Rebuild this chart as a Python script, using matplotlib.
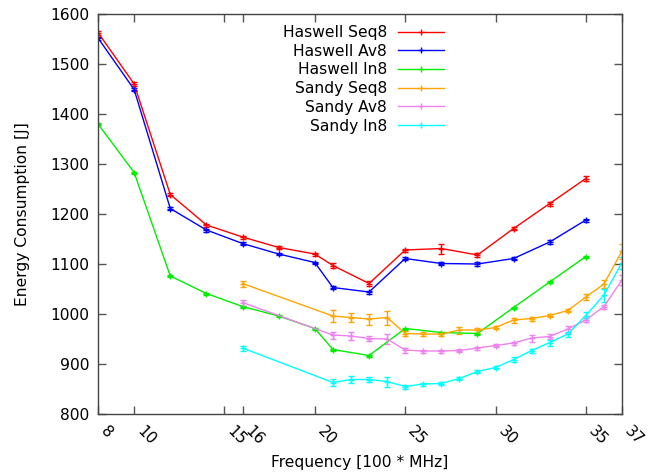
import matplotlib
matplotlib.use("Agg")
import matplotlib.pyplot as plt
from matplotlib.lines import Line2D

# Frequencies [100 MHz]
haswell_freq = [8, 10, 12, 14, 16, 18, 20, 21, 23, 25, 27, 29, 31, 33, 35]
sandy_freq = [16, 21, 22, 23, 24, 25, 26, 27, 28, 29, 30, 31, 32, 33, 34, 35, 36, 37]

haswell_seq8 = [1563, 1460, 1239, 1178, 1154, 1133, 1120, 1097, 1061, 1128, 1131, 1118, 1171, 1221, 1271]
haswell_seq8_err = [4, 4, 3, 3, 3, 3, 3, 5, 5, 3, 10, 4, 3, 4, 5]
haswell_av8 = [1552, 1449, 1211, 1168, 1141, 1120, 1103, 1053, 1044, 1111, 1101, 1100, 1111, 1144, 1188]
haswell_av8_err = [3, 3, 3, 3, 3, 2, 2, 3, 3, 3, 3, 4, 3, 4, 3]
haswell_in8 = [1380, 1283, 1076, 1041, 1015, 996, 971, 929, 917, 971, 963, 961, 1013, 1064, 1115]
haswell_in8_err = [2, 2, 2, 2, 2, 2, 2, 2, 2, 2, 2, 2, 2, 2, 2]

sandy_seq8 = [1061, 996, 993, 990, 993, 961, 960, 960, 968, 968, 973, 988, 991, 997, 1007, 1034, 1060, 1126]
sandy_seq8_err = [6, 12, 9, 11, 14, 5, 4, 3, 7, 5, 3, 5, 4, 3, 3, 6, 8, 15]
sandy_av8 = [1023, 958, 956, 951, 950, 928, 926, 926, 927, 932, 937, 942, 952, 955, 970, 988, 1015, 1068]
sandy_av8_err = [6, 7, 8, 5, 10, 5, 3, 3, 3, 3, 3, 3, 7, 5, 7, 4, 4, 10]
sandy_in8 = [932, 863, 869, 869, 865, 855, 860, 861, 871, 885, 893, 909, 927, 943, 960, 997, 1038, 1103]
sandy_in8_err = [5, 7, 7, 5, 10, 4, 3, 3, 3, 3, 3, 5, 4, 6, 5, 8, 13, 12]

series = [
    ("Haswell Seq8", haswell_freq, haswell_seq8, haswell_seq8_err, "#ff0000"),
    ("Haswell Av8", haswell_freq, haswell_av8, haswell_av8_err, "#0000ff"),
    ("Haswell In8", haswell_freq, haswell_in8, haswell_in8_err, "#00ee00"),
    ("Sandy Seq8", sandy_freq, sandy_seq8, sandy_seq8_err, "#ffa500"),
    ("Sandy Av8", sandy_freq, sandy_av8, sandy_av8_err, "#ee82ee"),
    ("Sandy In8", sandy_freq, sandy_in8, sandy_in8_err, "#00ffff"),
]

xticks = [8, 10, 15, 16, 20, 25, 30, 35, 37]
yticks = [800, 900, 1000, 1100, 1200, 1300, 1400, 1500, 1600]

FS = 11.2

fig = plt.figure(figsize=(6.55, 4.75), dpi=100)
ax = fig.add_axes([98 / 655, 1 - 414 / 475, 524 / 655, 400 / 475])

handles = []
for label, x, y, e, c in series:
    ax.errorbar(x, y, yerr=e, color=c, lw=1.0, marker="+", ms=5, mew=1.0,
                capsize=2.5, elinewidth=1.0, capthick=1.0)
    handles.append(Line2D([], [], color=c, lw=1.0, marker="+", ms=5, mew=1.0, label=label))

ax.set_xlim(8, 37)
ax.set_ylim(800, 1600)
ax.set_xticks(xticks)
ax.set_xticklabels([str(t) for t in xticks], rotation=-45, ha="left", va="top")
ax.set_yticks(yticks)
ax.tick_params(direction="in", top=True, right=True, length=6, width=1,
               color="#555555", labelsize=FS)
ax.tick_params(axis="x", pad=7)
ax.tick_params(axis="y", pad=6)
for s in ax.spines.values():
    s.set_color("#444444")
    s.set_linewidth(1.0)

ax.set_xlabel("Frequency [100 * MHz]", fontsize=FS, labelpad=5)
ax.set_ylabel("Energy Consumption [J]", fontsize=FS, labelpad=15)

leg = fig.legend(handles=handles, loc="upper right",
                 bbox_to_anchor=(444 / 655, 1 - 25 / 475),
                 frameon=False, markerfirst=False, fontsize=FS, handlelength=2.95,
                 labelspacing=0.24, handletextpad=0.7, borderpad=0, borderaxespad=0,
                 numpoints=1)
leg._legend_box.align = "right"
for t in leg.get_texts():
    t.set_ha("right")

fig.savefig("out.png", dpi=100)
